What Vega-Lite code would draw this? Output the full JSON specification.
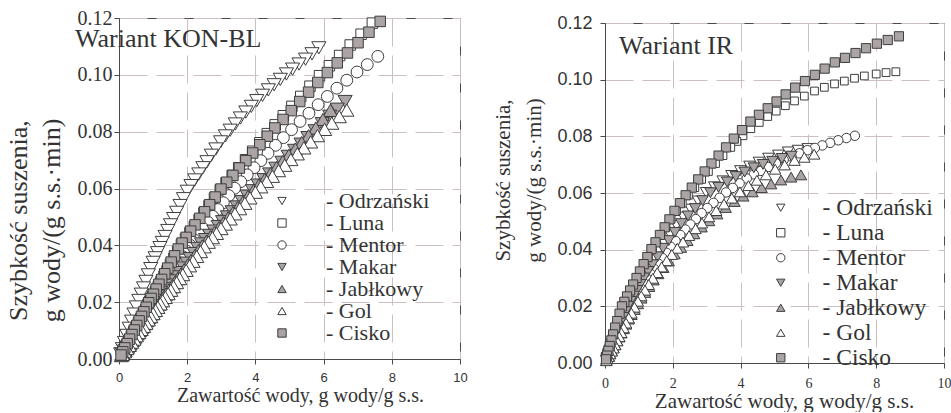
{
"$schema": "https://vega.github.io/schema/vega-lite/v6.json",
"background": "white",
"padding": {"left": 4, "top": 7, "right": 5, "bottom": 0},
"spacing": 23,
"datasets": {
"kon": [
{"variety":"Odrzański","x":5.86,"y":0.1095},{"variety":"Odrzański","x":5.66,"y":0.1074},{"variety":"Odrzański","x":5.47,"y":0.1055},{"variety":"Odrzański","x":5.28,"y":0.1038},{"variety":"Odrzański","x":5.09,"y":0.102},{"variety":"Odrzański","x":4.91,"y":0.1003},{"variety":"Odrzański","x":4.73,"y":0.0984},{"variety":"Odrzański","x":4.55,"y":0.0965},{"variety":"Odrzański","x":4.38,"y":0.0947},{"variety":"Odrzański","x":4.21,"y":0.0928},{"variety":"Odrzański","x":4.04,"y":0.0909},{"variety":"Odrzański","x":3.88,"y":0.0889},{"variety":"Odrzański","x":3.72,"y":0.0869},{"variety":"Odrzański","x":3.56,"y":0.0848},{"variety":"Odrzański","x":3.41,"y":0.0827},{"variety":"Odrzański","x":3.26,"y":0.0805},{"variety":"Odrzański","x":3.12,"y":0.0785},{"variety":"Odrzański","x":2.98,"y":0.0764},{"variety":"Odrzański","x":2.84,"y":0.0739},{"variety":"Odrzański","x":2.71,"y":0.0717},{"variety":"Odrzański","x":2.58,"y":0.0694},{"variety":"Odrzański","x":2.46,"y":0.0673},{"variety":"Odrzański","x":2.34,"y":0.0651},{"variety":"Odrzański","x":2.22,"y":0.063},{"variety":"Odrzański","x":2.11,"y":0.061},{"variety":"Odrzański","x":2.0,"y":0.059},{"variety":"Odrzański","x":1.89,"y":0.0564},{"variety":"Odrzański","x":1.79,"y":0.054},{"variety":"Odrzański","x":1.69,"y":0.0516},{"variety":"Odrzański","x":1.6,"y":0.0494},{"variety":"Odrzański","x":1.51,"y":0.0472},{"variety":"Odrzański","x":1.43,"y":0.0452},{"variety":"Odrzański","x":1.35,"y":0.0431},{"variety":"Odrzański","x":1.27,"y":0.041},{"variety":"Odrzański","x":1.2,"y":0.0392},{"variety":"Odrzański","x":1.13,"y":0.0374},{"variety":"Odrzański","x":1.06,"y":0.0356},{"variety":"Odrzański","x":1.0,"y":0.034},{"variety":"Odrzański","x":0.93,"y":0.0318},{"variety":"Odrzański","x":0.86,"y":0.0296},{"variety":"Odrzański","x":0.79,"y":0.0273},{"variety":"Odrzański","x":0.72,"y":0.025},{"variety":"Odrzański","x":0.65,"y":0.0228},{"variety":"Odrzański","x":0.58,"y":0.0206},{"variety":"Odrzański","x":0.51,"y":0.0183},{"variety":"Odrzański","x":0.44,"y":0.0158},{"variety":"Odrzański","x":0.37,"y":0.0133},{"variety":"Odrzański","x":0.3,"y":0.0108},{"variety":"Odrzański","x":0.23,"y":0.0083},{"variety":"Odrzański","x":0.16,"y":0.0058},{"variety":"Odrzański","x":0.1,"y":0.0036},{"variety":"Odrzański","x":0.05,"y":0.0018},
{"variety":"Luna","x":7.43,"y":0.1182},{"variety":"Luna","x":7.1,"y":0.1143},{"variety":"Luna","x":6.78,"y":0.1105},{"variety":"Luna","x":6.47,"y":0.1068},{"variety":"Luna","x":6.17,"y":0.1032},{"variety":"Luna","x":5.88,"y":0.0997},{"variety":"Luna","x":5.6,"y":0.096},{"variety":"Luna","x":5.33,"y":0.0924},{"variety":"Luna","x":5.07,"y":0.0889},{"variety":"Luna","x":4.82,"y":0.0856},{"variety":"Luna","x":4.58,"y":0.0824},{"variety":"Luna","x":4.35,"y":0.0793},{"variety":"Luna","x":4.13,"y":0.0761},{"variety":"Luna","x":3.92,"y":0.0731},{"variety":"Luna","x":3.71,"y":0.0701},{"variety":"Luna","x":3.51,"y":0.0673},{"variety":"Luna","x":3.32,"y":0.0646},{"variety":"Luna","x":3.14,"y":0.062},{"variety":"Luna","x":2.97,"y":0.0595},{"variety":"Luna","x":2.8,"y":0.0566},{"variety":"Luna","x":2.64,"y":0.0539},{"variety":"Luna","x":2.49,"y":0.0514},{"variety":"Luna","x":2.35,"y":0.049},{"variety":"Luna","x":2.21,"y":0.0466},{"variety":"Luna","x":2.08,"y":0.0444},{"variety":"Luna","x":1.95,"y":0.0422},{"variety":"Luna","x":1.83,"y":0.0402},{"variety":"Luna","x":1.72,"y":0.0378},{"variety":"Luna","x":1.61,"y":0.0354},{"variety":"Luna","x":1.51,"y":0.0333},{"variety":"Luna","x":1.41,"y":0.0311},{"variety":"Luna","x":1.32,"y":0.0291},{"variety":"Luna","x":1.23,"y":0.0272},{"variety":"Luna","x":1.15,"y":0.0254},{"variety":"Luna","x":1.07,"y":0.0237},{"variety":"Luna","x":0.99,"y":0.022},{"variety":"Luna","x":0.92,"y":0.0204},{"variety":"Luna","x":0.85,"y":0.0189},{"variety":"Luna","x":0.78,"y":0.0173},{"variety":"Luna","x":0.71,"y":0.0158},{"variety":"Luna","x":0.64,"y":0.0142},{"variety":"Luna","x":0.57,"y":0.0127},{"variety":"Luna","x":0.5,"y":0.0111},{"variety":"Luna","x":0.43,"y":0.0096},{"variety":"Luna","x":0.36,"y":0.008},{"variety":"Luna","x":0.29,"y":0.0064},{"variety":"Luna","x":0.22,"y":0.0049},{"variety":"Luna","x":0.15,"y":0.0033},{"variety":"Luna","x":0.09,"y":0.002},
{"variety":"Mentor","x":7.59,"y":0.1065},{"variety":"Mentor","x":7.28,"y":0.1036},{"variety":"Mentor","x":6.98,"y":0.101},{"variety":"Mentor","x":6.68,"y":0.0981},{"variety":"Mentor","x":6.39,"y":0.0953},{"variety":"Mentor","x":6.11,"y":0.0924},{"variety":"Mentor","x":5.84,"y":0.0895},{"variety":"Mentor","x":5.57,"y":0.0865},{"variety":"Mentor","x":5.31,"y":0.0836},{"variety":"Mentor","x":5.06,"y":0.0807},{"variety":"Mentor","x":4.82,"y":0.0779},{"variety":"Mentor","x":4.59,"y":0.0752},{"variety":"Mentor","x":4.37,"y":0.0724},{"variety":"Mentor","x":4.16,"y":0.0698},{"variety":"Mentor","x":3.96,"y":0.0673},{"variety":"Mentor","x":3.76,"y":0.0648},{"variety":"Mentor","x":3.57,"y":0.0624},{"variety":"Mentor","x":3.39,"y":0.0601},{"variety":"Mentor","x":3.22,"y":0.0575},{"variety":"Mentor","x":3.06,"y":0.055},{"variety":"Mentor","x":2.9,"y":0.0526},{"variety":"Mentor","x":2.75,"y":0.0502},{"variety":"Mentor","x":2.61,"y":0.0481},{"variety":"Mentor","x":2.47,"y":0.0459},{"variety":"Mentor","x":2.34,"y":0.0439},{"variety":"Mentor","x":2.21,"y":0.0419},{"variety":"Mentor","x":2.09,"y":0.04},{"variety":"Mentor","x":1.98,"y":0.038},{"variety":"Mentor","x":1.87,"y":0.036},{"variety":"Mentor","x":1.76,"y":0.0339},{"variety":"Mentor","x":1.66,"y":0.0321},{"variety":"Mentor","x":1.56,"y":0.0303},{"variety":"Mentor","x":1.47,"y":0.0286},{"variety":"Mentor","x":1.38,"y":0.027},{"variety":"Mentor","x":1.29,"y":0.0253},{"variety":"Mentor","x":1.21,"y":0.0239},{"variety":"Mentor","x":1.13,"y":0.0224},{"variety":"Mentor","x":1.06,"y":0.0211},{"variety":"Mentor","x":0.99,"y":0.0198},{"variety":"Mentor","x":0.92,"y":0.0184},{"variety":"Mentor","x":0.85,"y":0.017},{"variety":"Mentor","x":0.78,"y":0.0156},{"variety":"Mentor","x":0.71,"y":0.0142},{"variety":"Mentor","x":0.64,"y":0.0128},{"variety":"Mentor","x":0.57,"y":0.0114},{"variety":"Mentor","x":0.5,"y":0.01},{"variety":"Mentor","x":0.43,"y":0.0086},{"variety":"Mentor","x":0.36,"y":0.0072},{"variety":"Mentor","x":0.29,"y":0.0058},{"variety":"Mentor","x":0.22,"y":0.0044},{"variety":"Mentor","x":0.15,"y":0.003},{"variety":"Mentor","x":0.09,"y":0.0018},
{"variety":"Makar","x":6.63,"y":0.0906},{"variety":"Makar","x":6.4,"y":0.0879},{"variety":"Makar","x":6.18,"y":0.0854},{"variety":"Makar","x":5.96,"y":0.0828},{"variety":"Makar","x":5.75,"y":0.0803},{"variety":"Makar","x":5.54,"y":0.0779},{"variety":"Makar","x":5.34,"y":0.0756},{"variety":"Makar","x":5.15,"y":0.0734},{"variety":"Makar","x":4.96,"y":0.0713},{"variety":"Makar","x":4.78,"y":0.0692},{"variety":"Makar","x":4.6,"y":0.0671},{"variety":"Makar","x":4.42,"y":0.0651},{"variety":"Makar","x":4.25,"y":0.0631},{"variety":"Makar","x":4.08,"y":0.0612},{"variety":"Makar","x":3.92,"y":0.0592},{"variety":"Makar","x":3.76,"y":0.0573},{"variety":"Makar","x":3.61,"y":0.0554},{"variety":"Makar","x":3.46,"y":0.0535},{"variety":"Makar","x":3.32,"y":0.0518},{"variety":"Makar","x":3.18,"y":0.05},{"variety":"Makar","x":3.04,"y":0.0483},{"variety":"Makar","x":2.91,"y":0.0466},{"variety":"Makar","x":2.78,"y":0.045},{"variety":"Makar","x":2.66,"y":0.0435},{"variety":"Makar","x":2.54,"y":0.042},{"variety":"Makar","x":2.42,"y":0.0405},{"variety":"Makar","x":2.31,"y":0.0389},{"variety":"Makar","x":2.2,"y":0.0371},{"variety":"Makar","x":2.09,"y":0.0353},{"variety":"Makar","x":1.99,"y":0.0337},{"variety":"Makar","x":1.89,"y":0.032},{"variety":"Makar","x":1.79,"y":0.0304},{"variety":"Makar","x":1.7,"y":0.0289},{"variety":"Makar","x":1.61,"y":0.0275},{"variety":"Makar","x":1.52,"y":0.026},{"variety":"Makar","x":1.44,"y":0.0247},{"variety":"Makar","x":1.36,"y":0.0234},{"variety":"Makar","x":1.28,"y":0.0221},{"variety":"Makar","x":1.21,"y":0.021},{"variety":"Makar","x":1.14,"y":0.0198},{"variety":"Makar","x":1.07,"y":0.0186},{"variety":"Makar","x":1.0,"y":0.0174},{"variety":"Makar","x":0.93,"y":0.0162},{"variety":"Makar","x":0.86,"y":0.015},{"variety":"Makar","x":0.79,"y":0.0137},{"variety":"Makar","x":0.72,"y":0.0125},{"variety":"Makar","x":0.65,"y":0.0113},{"variety":"Makar","x":0.58,"y":0.0101},{"variety":"Makar","x":0.51,"y":0.0089},{"variety":"Makar","x":0.44,"y":0.0077},{"variety":"Makar","x":0.37,"y":0.0064},{"variety":"Makar","x":0.3,"y":0.0052},{"variety":"Makar","x":0.23,"y":0.004},{"variety":"Makar","x":0.16,"y":0.0028},{"variety":"Makar","x":0.1,"y":0.0017},
{"variety":"Jabłkowy","x":6.2,"y":0.0875},{"variety":"Jabłkowy","x":5.98,"y":0.0843},{"variety":"Jabłkowy","x":5.77,"y":0.0813},{"variety":"Jabłkowy","x":5.56,"y":0.0786},{"variety":"Jabłkowy","x":5.36,"y":0.0762},{"variety":"Jabłkowy","x":5.17,"y":0.0739},{"variety":"Jabłkowy","x":4.98,"y":0.0717},{"variety":"Jabłkowy","x":4.8,"y":0.0695},{"variety":"Jabłkowy","x":4.62,"y":0.0674},{"variety":"Jabłkowy","x":4.44,"y":0.0652},{"variety":"Jabłkowy","x":4.27,"y":0.0632},{"variety":"Jabłkowy","x":4.1,"y":0.0612},{"variety":"Jabłkowy","x":3.94,"y":0.0592},{"variety":"Jabłkowy","x":3.78,"y":0.0572},{"variety":"Jabłkowy","x":3.63,"y":0.0552},{"variety":"Jabłkowy","x":3.48,"y":0.0533},{"variety":"Jabłkowy","x":3.34,"y":0.0515},{"variety":"Jabłkowy","x":3.2,"y":0.0497},{"variety":"Jabłkowy","x":3.06,"y":0.0479},{"variety":"Jabłkowy","x":2.93,"y":0.0462},{"variety":"Jabłkowy","x":2.8,"y":0.0445},{"variety":"Jabłkowy","x":2.68,"y":0.043},{"variety":"Jabłkowy","x":2.56,"y":0.0414},{"variety":"Jabłkowy","x":2.44,"y":0.0398},{"variety":"Jabłkowy","x":2.33,"y":0.0381},{"variety":"Jabłkowy","x":2.22,"y":0.0363},{"variety":"Jabłkowy","x":2.11,"y":0.0346},{"variety":"Jabłkowy","x":2.01,"y":0.033},{"variety":"Jabłkowy","x":1.91,"y":0.0314},{"variety":"Jabłkowy","x":1.81,"y":0.0298},{"variety":"Jabłkowy","x":1.72,"y":0.0283},{"variety":"Jabłkowy","x":1.63,"y":0.0269},{"variety":"Jabłkowy","x":1.54,"y":0.0254},{"variety":"Jabłkowy","x":1.46,"y":0.0242},{"variety":"Jabłkowy","x":1.38,"y":0.0229},{"variety":"Jabłkowy","x":1.3,"y":0.0216},{"variety":"Jabłkowy","x":1.23,"y":0.0205},{"variety":"Jabłkowy","x":1.16,"y":0.0193},{"variety":"Jabłkowy","x":1.09,"y":0.0182},{"variety":"Jabłkowy","x":1.02,"y":0.017},{"variety":"Jabłkowy","x":0.95,"y":0.0159},{"variety":"Jabłkowy","x":0.88,"y":0.0147},{"variety":"Jabłkowy","x":0.81,"y":0.0135},{"variety":"Jabłkowy","x":0.74,"y":0.0124},{"variety":"Jabłkowy","x":0.67,"y":0.0112},{"variety":"Jabłkowy","x":0.6,"y":0.01},{"variety":"Jabłkowy","x":0.53,"y":0.0089},{"variety":"Jabłkowy","x":0.46,"y":0.0077},{"variety":"Jabłkowy","x":0.39,"y":0.0065},{"variety":"Jabłkowy","x":0.32,"y":0.0053},{"variety":"Jabłkowy","x":0.25,"y":0.0042},{"variety":"Jabłkowy","x":0.18,"y":0.003},{"variety":"Jabłkowy","x":0.12,"y":0.002},{"variety":"Jabłkowy","x":0.07,"y":0.0012},
{"variety":"Gol","x":6.68,"y":0.0876},{"variety":"Gol","x":6.46,"y":0.0853},{"variety":"Gol","x":6.24,"y":0.083},{"variety":"Gol","x":6.03,"y":0.0808},{"variety":"Gol","x":5.82,"y":0.0786},{"variety":"Gol","x":5.62,"y":0.0764},{"variety":"Gol","x":5.42,"y":0.0743},{"variety":"Gol","x":5.23,"y":0.0722},{"variety":"Gol","x":5.04,"y":0.0702},{"variety":"Gol","x":4.86,"y":0.0682},{"variety":"Gol","x":4.68,"y":0.0663},{"variety":"Gol","x":4.5,"y":0.0643},{"variety":"Gol","x":4.33,"y":0.0625},{"variety":"Gol","x":4.16,"y":0.0606},{"variety":"Gol","x":4.0,"y":0.0587},{"variety":"Gol","x":3.84,"y":0.0567},{"variety":"Gol","x":3.69,"y":0.0548},{"variety":"Gol","x":3.54,"y":0.0529},{"variety":"Gol","x":3.4,"y":0.0511},{"variety":"Gol","x":3.26,"y":0.0493},{"variety":"Gol","x":3.12,"y":0.0475},{"variety":"Gol","x":2.99,"y":0.0459},{"variety":"Gol","x":2.86,"y":0.0442},{"variety":"Gol","x":2.74,"y":0.0427},{"variety":"Gol","x":2.62,"y":0.0411},{"variety":"Gol","x":2.5,"y":0.0395},{"variety":"Gol","x":2.39,"y":0.0378},{"variety":"Gol","x":2.28,"y":0.0361},{"variety":"Gol","x":2.17,"y":0.0344},{"variety":"Gol","x":2.07,"y":0.0328},{"variety":"Gol","x":1.97,"y":0.0312},{"variety":"Gol","x":1.87,"y":0.0297},{"variety":"Gol","x":1.78,"y":0.0283},{"variety":"Gol","x":1.69,"y":0.0269},{"variety":"Gol","x":1.6,"y":0.0255},{"variety":"Gol","x":1.52,"y":0.0242},{"variety":"Gol","x":1.44,"y":0.023},{"variety":"Gol","x":1.36,"y":0.0217},{"variety":"Gol","x":1.28,"y":0.0205},{"variety":"Gol","x":1.21,"y":0.0194},{"variety":"Gol","x":1.14,"y":0.0182},{"variety":"Gol","x":1.07,"y":0.0171},{"variety":"Gol","x":1.0,"y":0.016},{"variety":"Gol","x":0.93,"y":0.0149},{"variety":"Gol","x":0.86,"y":0.0138},{"variety":"Gol","x":0.79,"y":0.0126},{"variety":"Gol","x":0.72,"y":0.0115},{"variety":"Gol","x":0.65,"y":0.0104},{"variety":"Gol","x":0.58,"y":0.0093},{"variety":"Gol","x":0.51,"y":0.0082},{"variety":"Gol","x":0.44,"y":0.007},{"variety":"Gol","x":0.37,"y":0.0059},{"variety":"Gol","x":0.3,"y":0.0048},{"variety":"Gol","x":0.23,"y":0.0037},{"variety":"Gol","x":0.16,"y":0.0026},{"variety":"Gol","x":0.1,"y":0.0016},
{"variety":"Cisko","x":7.66,"y":0.1188},{"variety":"Cisko","x":7.33,"y":0.115},{"variety":"Cisko","x":7.01,"y":0.1113},{"variety":"Cisko","x":6.7,"y":0.1077},{"variety":"Cisko","x":6.4,"y":0.1042},{"variety":"Cisko","x":6.11,"y":0.1008},{"variety":"Cisko","x":5.83,"y":0.0973},{"variety":"Cisko","x":5.56,"y":0.0939},{"variety":"Cisko","x":5.3,"y":0.0906},{"variety":"Cisko","x":5.05,"y":0.0874},{"variety":"Cisko","x":4.81,"y":0.0843},{"variety":"Cisko","x":4.57,"y":0.0813},{"variety":"Cisko","x":4.35,"y":0.0784},{"variety":"Cisko","x":4.13,"y":0.0754},{"variety":"Cisko","x":3.92,"y":0.0725},{"variety":"Cisko","x":3.72,"y":0.0698},{"variety":"Cisko","x":3.53,"y":0.0672},{"variety":"Cisko","x":3.34,"y":0.0646},{"variety":"Cisko","x":3.16,"y":0.0622},{"variety":"Cisko","x":2.99,"y":0.0598},{"variety":"Cisko","x":2.82,"y":0.057},{"variety":"Cisko","x":2.66,"y":0.0543},{"variety":"Cisko","x":2.51,"y":0.0518},{"variety":"Cisko","x":2.37,"y":0.0495},{"variety":"Cisko","x":2.23,"y":0.0472},{"variety":"Cisko","x":2.1,"y":0.045},{"variety":"Cisko","x":1.97,"y":0.0428},{"variety":"Cisko","x":1.85,"y":0.0408},{"variety":"Cisko","x":1.74,"y":0.0387},{"variety":"Cisko","x":1.63,"y":0.0363},{"variety":"Cisko","x":1.53,"y":0.0341},{"variety":"Cisko","x":1.43,"y":0.032},{"variety":"Cisko","x":1.34,"y":0.03},{"variety":"Cisko","x":1.25,"y":0.028},{"variety":"Cisko","x":1.17,"y":0.0263},{"variety":"Cisko","x":1.09,"y":0.0246},{"variety":"Cisko","x":1.01,"y":0.0228},{"variety":"Cisko","x":0.94,"y":0.0213},{"variety":"Cisko","x":0.87,"y":0.0198},{"variety":"Cisko","x":0.8,"y":0.0182},{"variety":"Cisko","x":0.73,"y":0.0166},{"variety":"Cisko","x":0.66,"y":0.015},{"variety":"Cisko","x":0.59,"y":0.0134},{"variety":"Cisko","x":0.52,"y":0.0118},{"variety":"Cisko","x":0.45,"y":0.0102},{"variety":"Cisko","x":0.38,"y":0.0086},{"variety":"Cisko","x":0.31,"y":0.007},{"variety":"Cisko","x":0.24,"y":0.0054},{"variety":"Cisko","x":0.17,"y":0.0039},{"variety":"Cisko","x":0.11,"y":0.0025},{"variety":"Cisko","x":0.06,"y":0.0014}
],
"ir": [
{"variety":"Odrzański","x":5.98,"y":0.0757},{"variety":"Odrzański","x":5.69,"y":0.0751},{"variety":"Odrzański","x":5.4,"y":0.0745},{"variety":"Odrzański","x":5.11,"y":0.0734},{"variety":"Odrzański","x":4.82,"y":0.0723},{"variety":"Odrzański","x":4.54,"y":0.0709},{"variety":"Odrzański","x":4.26,"y":0.0695},{"variety":"Odrzański","x":3.99,"y":0.0679},{"variety":"Odrzański","x":3.73,"y":0.0662},{"variety":"Odrzański","x":3.47,"y":0.0643},{"variety":"Odrzański","x":3.22,"y":0.0622},{"variety":"Odrzański","x":2.98,"y":0.0602},{"variety":"Odrzański","x":2.74,"y":0.0572},{"variety":"Odrzański","x":2.52,"y":0.0543},{"variety":"Odrzański","x":2.31,"y":0.0515},{"variety":"Odrzański","x":2.11,"y":0.0485},{"variety":"Odrzański","x":1.92,"y":0.0453},{"variety":"Odrzański","x":1.74,"y":0.0423},{"variety":"Odrzański","x":1.58,"y":0.0396},{"variety":"Odrzański","x":1.43,"y":0.0366},{"variety":"Odrzański","x":1.29,"y":0.0338},{"variety":"Odrzański","x":1.16,"y":0.0312},{"variety":"Odrzański","x":1.04,"y":0.0287},{"variety":"Odrzański","x":0.93,"y":0.0262},{"variety":"Odrzański","x":0.83,"y":0.024},{"variety":"Odrzański","x":0.74,"y":0.022},{"variety":"Odrzański","x":0.66,"y":0.0202},{"variety":"Odrzański","x":0.58,"y":0.018},{"variety":"Odrzański","x":0.51,"y":0.016},{"variety":"Odrzański","x":0.45,"y":0.0143},{"variety":"Odrzański","x":0.39,"y":0.0126},{"variety":"Odrzański","x":0.33,"y":0.0109},{"variety":"Odrzański","x":0.28,"y":0.0093},{"variety":"Odrzański","x":0.23,"y":0.0076},{"variety":"Odrzański","x":0.18,"y":0.0059},{"variety":"Odrzański","x":0.14,"y":0.0046},{"variety":"Odrzański","x":0.1,"y":0.0033},{"variety":"Odrzański","x":0.06,"y":0.002},{"variety":"Odrzański","x":0.03,"y":0.001},
{"variety":"Luna","x":8.58,"y":0.1028},{"variety":"Luna","x":8.29,"y":0.1025},{"variety":"Luna","x":8.0,"y":0.102},{"variety":"Luna","x":7.65,"y":0.1013},{"variety":"Luna","x":7.36,"y":0.1005},{"variety":"Luna","x":7.06,"y":0.0995},{"variety":"Luna","x":6.77,"y":0.0985},{"variety":"Luna","x":6.47,"y":0.0973},{"variety":"Luna","x":6.18,"y":0.096},{"variety":"Luna","x":5.88,"y":0.0942},{"variety":"Luna","x":5.59,"y":0.0925},{"variety":"Luna","x":5.32,"y":0.0908},{"variety":"Luna","x":5.05,"y":0.0889},{"variety":"Luna","x":4.8,"y":0.087},{"variety":"Luna","x":4.55,"y":0.0849},{"variety":"Luna","x":4.3,"y":0.0827},{"variety":"Luna","x":4.07,"y":0.0802},{"variety":"Luna","x":3.89,"y":0.0782},{"variety":"Luna","x":3.71,"y":0.0761},{"variety":"Luna","x":3.48,"y":0.0732},{"variety":"Luna","x":3.26,"y":0.0704},{"variety":"Luna","x":3.05,"y":0.0676},{"variety":"Luna","x":2.85,"y":0.0648},{"variety":"Luna","x":2.65,"y":0.0619},{"variety":"Luna","x":2.46,"y":0.0592},{"variety":"Luna","x":2.28,"y":0.0564},{"variety":"Luna","x":2.11,"y":0.0537},{"variety":"Luna","x":1.95,"y":0.0507},{"variety":"Luna","x":1.8,"y":0.0479},{"variety":"Luna","x":1.66,"y":0.0452},{"variety":"Luna","x":1.52,"y":0.0426},{"variety":"Luna","x":1.4,"y":0.0402},{"variety":"Luna","x":1.28,"y":0.0374},{"variety":"Luna","x":1.16,"y":0.0349},{"variety":"Luna","x":1.05,"y":0.0323},{"variety":"Luna","x":0.95,"y":0.03},{"variety":"Luna","x":0.85,"y":0.0277},{"variety":"Luna","x":0.76,"y":0.0256},{"variety":"Luna","x":0.67,"y":0.0235},{"variety":"Luna","x":0.59,"y":0.0216},{"variety":"Luna","x":0.52,"y":0.02},{"variety":"Luna","x":0.45,"y":0.0174},{"variety":"Luna","x":0.38,"y":0.0148},{"variety":"Luna","x":0.32,"y":0.0125},{"variety":"Luna","x":0.26,"y":0.0101},{"variety":"Luna","x":0.21,"y":0.008},{"variety":"Luna","x":0.16,"y":0.006},{"variety":"Luna","x":0.11,"y":0.0043},{"variety":"Luna","x":0.07,"y":0.0026},
{"variety":"Mentor","x":7.37,"y":0.0802},{"variety":"Mentor","x":7.12,"y":0.0794},{"variety":"Mentor","x":6.88,"y":0.0786},{"variety":"Mentor","x":6.64,"y":0.0777},{"variety":"Mentor","x":6.41,"y":0.0768},{"variety":"Mentor","x":6.19,"y":0.0759},{"variety":"Mentor","x":5.97,"y":0.0751},{"variety":"Mentor","x":5.73,"y":0.074},{"variety":"Mentor","x":5.5,"y":0.0729},{"variety":"Mentor","x":5.27,"y":0.0717},{"variety":"Mentor","x":5.04,"y":0.0705},{"variety":"Mentor","x":4.82,"y":0.0692},{"variety":"Mentor","x":4.6,"y":0.0678},{"variety":"Mentor","x":4.39,"y":0.0666},{"variety":"Mentor","x":4.18,"y":0.0651},{"variety":"Mentor","x":3.97,"y":0.0634},{"variety":"Mentor","x":3.77,"y":0.0618},{"variety":"Mentor","x":3.57,"y":0.0602},{"variety":"Mentor","x":3.38,"y":0.0583},{"variety":"Mentor","x":3.2,"y":0.0565},{"variety":"Mentor","x":3.02,"y":0.0547},{"variety":"Mentor","x":2.85,"y":0.0529},{"variety":"Mentor","x":2.68,"y":0.0508},{"variety":"Mentor","x":2.52,"y":0.0489},{"variety":"Mentor","x":2.37,"y":0.0471},{"variety":"Mentor","x":2.22,"y":0.0452},{"variety":"Mentor","x":2.08,"y":0.0431},{"variety":"Mentor","x":1.94,"y":0.041},{"variety":"Mentor","x":1.81,"y":0.0389},{"variety":"Mentor","x":1.69,"y":0.0371},{"variety":"Mentor","x":1.57,"y":0.0351},{"variety":"Mentor","x":1.46,"y":0.0331},{"variety":"Mentor","x":1.36,"y":0.0313},{"variety":"Mentor","x":1.26,"y":0.0295},{"variety":"Mentor","x":1.17,"y":0.0279},{"variety":"Mentor","x":1.08,"y":0.0261},{"variety":"Mentor","x":1.0,"y":0.0244},{"variety":"Mentor","x":0.92,"y":0.0227},{"variety":"Mentor","x":0.85,"y":0.0212},{"variety":"Mentor","x":0.78,"y":0.0197},{"variety":"Mentor","x":0.71,"y":0.0181},{"variety":"Mentor","x":0.64,"y":0.0165},{"variety":"Mentor","x":0.58,"y":0.0149},{"variety":"Mentor","x":0.52,"y":0.0133},{"variety":"Mentor","x":0.46,"y":0.0117},{"variety":"Mentor","x":0.4,"y":0.0101},{"variety":"Mentor","x":0.35,"y":0.0088},{"variety":"Mentor","x":0.3,"y":0.0075},{"variety":"Mentor","x":0.25,"y":0.0063},{"variety":"Mentor","x":0.2,"y":0.005},{"variety":"Mentor","x":0.16,"y":0.004},{"variety":"Mentor","x":0.12,"y":0.003},{"variety":"Mentor","x":0.08,"y":0.002},{"variety":"Mentor","x":0.05,"y":0.0013},
{"variety":"Makar","x":5.5,"y":0.073},{"variety":"Makar","x":5.22,"y":0.0722},{"variety":"Makar","x":4.94,"y":0.0712},{"variety":"Makar","x":4.66,"y":0.0701},{"variety":"Makar","x":4.39,"y":0.0689},{"variety":"Makar","x":4.12,"y":0.0674},{"variety":"Makar","x":3.86,"y":0.0658},{"variety":"Makar","x":3.6,"y":0.0639},{"variety":"Makar","x":3.35,"y":0.062},{"variety":"Makar","x":3.11,"y":0.0601},{"variety":"Makar","x":2.88,"y":0.0573},{"variety":"Makar","x":2.66,"y":0.0545},{"variety":"Makar","x":2.45,"y":0.0519},{"variety":"Makar","x":2.25,"y":0.0492},{"variety":"Makar","x":2.06,"y":0.0461},{"variety":"Makar","x":1.88,"y":0.0432},{"variety":"Makar","x":1.71,"y":0.0405},{"variety":"Makar","x":1.55,"y":0.0375},{"variety":"Makar","x":1.4,"y":0.0347},{"variety":"Makar","x":1.27,"y":0.0323},{"variety":"Makar","x":1.15,"y":0.03},{"variety":"Makar","x":1.04,"y":0.0277},{"variety":"Makar","x":0.94,"y":0.0256},{"variety":"Makar","x":0.85,"y":0.0236},{"variety":"Makar","x":0.76,"y":0.0217},{"variety":"Makar","x":0.68,"y":0.02},{"variety":"Makar","x":0.61,"y":0.0181},{"variety":"Makar","x":0.54,"y":0.0161},{"variety":"Makar","x":0.48,"y":0.0145},{"variety":"Makar","x":0.42,"y":0.0128},{"variety":"Makar","x":0.36,"y":0.0112},{"variety":"Makar","x":0.31,"y":0.0098},{"variety":"Makar","x":0.26,"y":0.0082},{"variety":"Makar","x":0.21,"y":0.0067},{"variety":"Makar","x":0.17,"y":0.0054},{"variety":"Makar","x":0.13,"y":0.0041},{"variety":"Makar","x":0.09,"y":0.0029},{"variety":"Makar","x":0.05,"y":0.0016},
{"variety":"Jabłkowy","x":5.78,"y":0.0664},{"variety":"Jabłkowy","x":5.49,"y":0.0656},{"variety":"Jabłkowy","x":5.19,"y":0.0646},{"variety":"Jabłkowy","x":4.9,"y":0.0632},{"variety":"Jabłkowy","x":4.62,"y":0.0619},{"variety":"Jabłkowy","x":4.35,"y":0.0604},{"variety":"Jabłkowy","x":4.08,"y":0.0589},{"variety":"Jabłkowy","x":3.82,"y":0.057},{"variety":"Jabłkowy","x":3.56,"y":0.0549},{"variety":"Jabłkowy","x":3.31,"y":0.0526},{"variety":"Jabłkowy","x":3.07,"y":0.0502},{"variety":"Jabłkowy","x":2.85,"y":0.048},{"variety":"Jabłkowy","x":2.63,"y":0.0456},{"variety":"Jabłkowy","x":2.43,"y":0.0432},{"variety":"Jabłkowy","x":2.24,"y":0.0408},{"variety":"Jabłkowy","x":2.05,"y":0.0385},{"variety":"Jabłkowy","x":1.88,"y":0.036},{"variety":"Jabłkowy","x":1.72,"y":0.0337},{"variety":"Jabłkowy","x":1.57,"y":0.0315},{"variety":"Jabłkowy","x":1.43,"y":0.0293},{"variety":"Jabłkowy","x":1.3,"y":0.027},{"variety":"Jabłkowy","x":1.18,"y":0.0249},{"variety":"Jabłkowy","x":1.07,"y":0.0229},{"variety":"Jabłkowy","x":0.97,"y":0.0209},{"variety":"Jabłkowy","x":0.87,"y":0.0189},{"variety":"Jabłkowy","x":0.78,"y":0.0171},{"variety":"Jabłkowy","x":0.7,"y":0.0155},{"variety":"Jabłkowy","x":0.62,"y":0.0137},{"variety":"Jabłkowy","x":0.55,"y":0.0121},{"variety":"Jabłkowy","x":0.48,"y":0.0106},{"variety":"Jabłkowy","x":0.42,"y":0.0092},{"variety":"Jabłkowy","x":0.36,"y":0.0079},{"variety":"Jabłkowy","x":0.3,"y":0.0065},{"variety":"Jabłkowy","x":0.25,"y":0.0054},{"variety":"Jabłkowy","x":0.2,"y":0.0043},{"variety":"Jabłkowy","x":0.15,"y":0.0033},{"variety":"Jabłkowy","x":0.11,"y":0.0024},{"variety":"Jabłkowy","x":0.07,"y":0.0015},{"variety":"Jabłkowy","x":0.04,"y":0.0009},
{"variety":"Gol","x":6.17,"y":0.0737},{"variety":"Gol","x":5.88,"y":0.0726},{"variety":"Gol","x":5.59,"y":0.0715},{"variety":"Gol","x":5.3,"y":0.0699},{"variety":"Gol","x":5.02,"y":0.0684},{"variety":"Gol","x":4.75,"y":0.0664},{"variety":"Gol","x":4.48,"y":0.0645},{"variety":"Gol","x":4.23,"y":0.0626},{"variety":"Gol","x":3.98,"y":0.0604},{"variety":"Gol","x":3.74,"y":0.0582},{"variety":"Gol","x":3.51,"y":0.0561},{"variety":"Gol","x":3.28,"y":0.0538},{"variety":"Gol","x":3.07,"y":0.0516},{"variety":"Gol","x":2.86,"y":0.0494},{"variety":"Gol","x":2.67,"y":0.0474},{"variety":"Gol","x":2.48,"y":0.045},{"variety":"Gol","x":2.3,"y":0.0427},{"variety":"Gol","x":2.13,"y":0.0405},{"variety":"Gol","x":1.97,"y":0.0383},{"variety":"Gol","x":1.82,"y":0.0361},{"variety":"Gol","x":1.67,"y":0.0339},{"variety":"Gol","x":1.54,"y":0.0319},{"variety":"Gol","x":1.41,"y":0.0299},{"variety":"Gol","x":1.29,"y":0.0277},{"variety":"Gol","x":1.18,"y":0.0257},{"variety":"Gol","x":1.07,"y":0.0237},{"variety":"Gol","x":0.97,"y":0.0218},{"variety":"Gol","x":0.87,"y":0.0197},{"variety":"Gol","x":0.78,"y":0.0176},{"variety":"Gol","x":0.7,"y":0.0159},{"variety":"Gol","x":0.62,"y":0.0141},{"variety":"Gol","x":0.55,"y":0.0124},{"variety":"Gol","x":0.48,"y":0.0107},{"variety":"Gol","x":0.42,"y":0.0093},{"variety":"Gol","x":0.36,"y":0.0078},{"variety":"Gol","x":0.3,"y":0.0064},{"variety":"Gol","x":0.25,"y":0.0053},{"variety":"Gol","x":0.2,"y":0.0042},{"variety":"Gol","x":0.15,"y":0.0032},{"variety":"Gol","x":0.11,"y":0.0023},{"variety":"Gol","x":0.07,"y":0.0015},{"variety":"Gol","x":0.04,"y":0.0008},
{"variety":"Cisko","x":8.67,"y":0.1153},{"variety":"Cisko","x":8.34,"y":0.114},{"variety":"Cisko","x":8.02,"y":0.1127},{"variety":"Cisko","x":7.7,"y":0.1111},{"variety":"Cisko","x":7.39,"y":0.1094},{"variety":"Cisko","x":7.08,"y":0.1077},{"variety":"Cisko","x":6.78,"y":0.1061},{"variety":"Cisko","x":6.48,"y":0.1039},{"variety":"Cisko","x":6.19,"y":0.1017},{"variety":"Cisko","x":5.9,"y":0.0995},{"variety":"Cisko","x":5.61,"y":0.0972},{"variety":"Cisko","x":5.33,"y":0.0948},{"variety":"Cisko","x":5.06,"y":0.0923},{"variety":"Cisko","x":4.8,"y":0.0899},{"variety":"Cisko","x":4.54,"y":0.0876},{"variety":"Cisko","x":4.29,"y":0.0852},{"variety":"Cisko","x":4.04,"y":0.0822},{"variety":"Cisko","x":3.8,"y":0.0792},{"variety":"Cisko","x":3.57,"y":0.0761},{"variety":"Cisko","x":3.35,"y":0.0732},{"variety":"Cisko","x":3.14,"y":0.0704},{"variety":"Cisko","x":2.94,"y":0.0676},{"variety":"Cisko","x":2.75,"y":0.0648},{"variety":"Cisko","x":2.56,"y":0.0619},{"variety":"Cisko","x":2.38,"y":0.0592},{"variety":"Cisko","x":2.21,"y":0.0564},{"variety":"Cisko","x":2.05,"y":0.0537},{"variety":"Cisko","x":1.9,"y":0.0507},{"variety":"Cisko","x":1.76,"y":0.0479},{"variety":"Cisko","x":1.62,"y":0.0452},{"variety":"Cisko","x":1.49,"y":0.0426},{"variety":"Cisko","x":1.37,"y":0.0402},{"variety":"Cisko","x":1.25,"y":0.0374},{"variety":"Cisko","x":1.14,"y":0.0349},{"variety":"Cisko","x":1.03,"y":0.0323},{"variety":"Cisko","x":0.93,"y":0.03},{"variety":"Cisko","x":0.83,"y":0.0277},{"variety":"Cisko","x":0.74,"y":0.0256},{"variety":"Cisko","x":0.65,"y":0.0235},{"variety":"Cisko","x":0.57,"y":0.0216},{"variety":"Cisko","x":0.5,"y":0.02},{"variety":"Cisko","x":0.43,"y":0.0174},{"variety":"Cisko","x":0.36,"y":0.0148},{"variety":"Cisko","x":0.3,"y":0.0125},{"variety":"Cisko","x":0.24,"y":0.0101},{"variety":"Cisko","x":0.19,"y":0.008},{"variety":"Cisko","x":0.14,"y":0.006},{"variety":"Cisko","x":0.1,"y":0.0043},{"variety":"Cisko","x":0.06,"y":0.0026},{"variety":"Cisko","x":0.03,"y":0.0013}
]
},
"config": {
  "font": "Liberation Serif",
  "view": {"stroke": "#4a4a4a", "strokeWidth": 1},
  "axis": {"domainColor": "#4a4a4a", "tickColor": "#4a4a4a", "tickSize": 5, "labelColor": "#333333", "titleColor": "#333333", "titleFontWeight": "normal", "gridColor": "#cbbfbf", "gridDash": [28, 9], "gridWidth": 1, "labelFlush": false, "labelOverlap": false},
  "point": {"filled": true, "stroke": "#3d3d3d", "strokeWidth": 1, "opacity": 1},
  "title": {"fontWeight": "normal", "color": "#333333"}
},
"resolve": {"scale": {"shape": "independent", "fill": "independent", "stroke": "independent"}, "legend": {"shape": "independent", "fill": "independent", "stroke": "independent"}},
"hconcat": [
{
  "width": 341, "height": 341,
  "data": {"name": "kon"},
  "title": {"text": "Wariant KON-BL", "anchor": "start", "frame": "group", "orient": "top", "offset": 0, "dx": -44, "dy": 65, "baseline": "alphabetic", "font": "Liberation Serif", "fontSize": 26, "fontWeight": "normal", "color": "#333333"},
  "encoding": {
    "x": {"field": "x", "type": "quantitative", "scale": {"domain": [0, 10], "nice": false, "zero": false},
      "axis": {"values": [0, 2, 4, 6, 8, 10], "format": "d", "labelFont": "Liberation Sans", "labelFontSize": 13, "labelPadding": 7,
        "title": "Zawartość wody, g wody/g s.s.", "titleFont": "Liberation Serif", "titleFontSize": 20, "titleX": 181, "titleY": 42, "titleBaseline": "alphabetic", "titleAlign": "center"}},
    "y": {"field": "y", "type": "quantitative", "scale": {"domain": [0, 0.12], "nice": false},
      "axis": {"values": [0, 0.02, 0.04, 0.06, 0.08, 0.1, 0.12], "format": ".2f", "labelFont": "Liberation Serif", "labelFontSize": 20, "labelPadding": 2,
        "title": ["Szybkość suszenia,", "g wody/(g s.s.·min)"], "titleFont": "Liberation Serif", "titleFontSize": 26, "titleLineHeight": 33, "titleX": -101, "titleY": 202, "titleAngle": -90, "titleAlign": "center", "titleBaseline": "middle"}},
    "shape": {"field": "variety", "type": "nominal",
      "scale": {"domain": ["Odrzański", "Luna", "Mentor", "Makar", "Jabłkowy", "Gol", "Cisko"], "range": ["triangle-down", "square", "circle", "triangle-down", "triangle-up", "triangle-up", "square"]},
      "legend": {"orient": "none", "legendX": 152, "legendY": 172, "title": null, "labelExpr": "'- ' + datum.label", "labelFont": "Liberation Serif", "labelFontSize": 22, "labelColor": "#333333", "labelOffset": 33, "symbolSize": 70, "symbolStrokeWidth": 1, "rowPadding": 0, "padding": 0}},
    "fill": {"field": "variety", "type": "nominal",
      "scale": {"domain": ["Odrzański", "Luna", "Mentor", "Makar", "Jabłkowy", "Gol", "Cisko"], "range": ["#ffffff", "#ffffff", "#ffffff", "#aba4a4", "#aba4a4", "#ffffff", "#aba4a4"]},
      "legend": {"orient": "none", "legendX": 152, "legendY": 172, "title": null, "labelExpr": "'- ' + datum.label", "labelFont": "Liberation Serif", "labelFontSize": 22, "labelColor": "#333333", "labelOffset": 33, "symbolSize": 70, "symbolStrokeWidth": 1, "rowPadding": 0, "padding": 0}},
    "stroke": {"field": "variety", "type": "nominal",
      "scale": {"domain": ["Odrzański", "Luna", "Mentor", "Makar", "Jabłkowy", "Gol", "Cisko"], "range": ["#3d3d3d", "#3d3d3d", "#3d3d3d", "#3d3d3d", "#3d3d3d", "#3d3d3d", "#3d3d3d"]},
      "legend": {"orient": "none", "legendX": 152, "legendY": 172, "title": null, "labelExpr": "'- ' + datum.label", "labelFont": "Liberation Serif", "labelFontSize": 22, "labelColor": "#333333", "labelOffset": 33, "symbolSize": 70, "symbolStrokeWidth": 1, "rowPadding": 0, "padding": 0}}
  },
  "layer": [
    {"transform": [{"filter": {"field": "variety", "equal": "Odrzański"}}], "mark": {"type": "point", "size": 200}},
    {"transform": [{"filter": {"field": "variety", "equal": "Luna"}}], "mark": {"type": "point", "size": 110}},
    {"transform": [{"filter": {"field": "variety", "equal": "Mentor"}}], "mark": {"type": "point", "size": 140}},
    {"transform": [{"filter": {"field": "variety", "oneOf": ["Makar", "Jabłkowy", "Gol"]}}], "mark": {"type": "point", "size": 200}},
    {"transform": [{"filter": {"field": "variety", "equal": "Cisko"}}], "mark": {"type": "point", "size": 110}}
  ]
},
{
  "spacing": -6,
  "resolve": {"scale": {"shape": "independent", "fill": "independent", "stroke": "independent"}, "legend": {"shape": "independent", "fill": "independent", "stroke": "independent"}},
  "vconcat": [
  {
    "width": 339, "height": 1,
    "view": {"stroke": null},
    "data": {"values": []},
    "mark": {"type": "rule"},
    "encoding": {}
  },
  {
    "width": 339, "height": 340,
    "data": {"name": "ir"},
    "title": {"text": "Wariant IR", "anchor": "start", "frame": "group", "orient": "top", "offset": 0, "dx": 14, "dy": 66, "baseline": "alphabetic", "font": "Liberation Serif", "fontSize": 26, "fontWeight": "normal", "color": "#333333"},
    "encoding": {
      "x": {"field": "x", "type": "quantitative", "scale": {"domain": [0, 10], "nice": false, "zero": false},
        "axis": {"values": [0, 2, 4, 6, 8, 10], "format": "d", "labelFont": "Liberation Serif", "labelFontSize": 14, "labelPadding": 8,
          "title": "Zawartość wody, g wody/g s.s.", "titleFont": "Liberation Serif", "titleFontSize": 21, "titleX": 179, "titleY": 44, "titleBaseline": "alphabetic", "titleAlign": "center"}},
      "y": {"field": "y", "type": "quantitative", "scale": {"domain": [0, 0.12], "nice": false},
        "axis": {"values": [0, 0.02, 0.04, 0.06, 0.08, 0.1, 0.12], "format": ".2f", "labelFont": "Liberation Sans", "labelFontSize": 18, "labelPadding": 8,
          "title": ["Szybkość suszenia,", "g wody/(g s.s.·min)"], "titleFont": "Liberation Serif", "titleFontSize": 21, "titleLineHeight": 31, "titleX": -102, "titleY": 157, "titleAngle": -90, "titleAlign": "center", "titleBaseline": "middle"}},
      "shape": {"field": "variety", "type": "nominal",
        "scale": {"domain": ["Odrzański", "Luna", "Mentor", "Makar", "Jabłkowy", "Gol", "Cisko"], "range": ["triangle-down", "square", "circle", "triangle-down", "triangle-up", "triangle-up", "square"]},
        "legend": {"orient": "none", "legendX": 164, "legendY": 173, "title": null, "labelExpr": "'- ' + datum.label", "labelFont": "Liberation Serif", "labelFontSize": 23.5, "labelColor": "#333333", "labelOffset": 30, "symbolSize": 70, "symbolStrokeWidth": 1, "rowPadding": 0, "padding": 0}},
      "fill": {"field": "variety", "type": "nominal",
        "scale": {"domain": ["Odrzański", "Luna", "Mentor", "Makar", "Jabłkowy", "Gol", "Cisko"], "range": ["#ffffff", "#ffffff", "#ffffff", "#aba4a4", "#aba4a4", "#ffffff", "#aba4a4"]},
        "legend": {"orient": "none", "legendX": 164, "legendY": 173, "title": null, "labelExpr": "'- ' + datum.label", "labelFont": "Liberation Serif", "labelFontSize": 23.5, "labelColor": "#333333", "labelOffset": 30, "symbolSize": 70, "symbolStrokeWidth": 1, "rowPadding": 0, "padding": 0}},
      "stroke": {"field": "variety", "type": "nominal",
        "scale": {"domain": ["Odrzański", "Luna", "Mentor", "Makar", "Jabłkowy", "Gol", "Cisko"], "range": ["#3d3d3d", "#3d3d3d", "#3d3d3d", "#3d3d3d", "#3d3d3d", "#3d3d3d", "#3d3d3d"]},
        "legend": {"orient": "none", "legendX": 164, "legendY": 173, "title": null, "labelExpr": "'- ' + datum.label", "labelFont": "Liberation Serif", "labelFontSize": 23.5, "labelColor": "#333333", "labelOffset": 30, "symbolSize": 70, "symbolStrokeWidth": 1, "rowPadding": 0, "padding": 0}}
    },
    "layer": [
      {"transform": [{"filter": {"field": "variety", "equal": "Odrzański"}}], "mark": {"type": "point", "size": 130}},
      {"transform": [{"filter": {"field": "variety", "equal": "Luna"}}], "mark": {"type": "point", "size": 60}},
      {"transform": [{"filter": {"field": "variety", "equal": "Mentor"}}], "mark": {"type": "point", "size": 90}},
      {"transform": [{"filter": {"field": "variety", "oneOf": ["Makar", "Jabłkowy", "Gol"]}}], "mark": {"type": "point", "size": 130}},
      {"transform": [{"filter": {"field": "variety", "equal": "Cisko"}}], "mark": {"type": "point", "size": 85}}
    ]
  }
  ]
}
]
}
